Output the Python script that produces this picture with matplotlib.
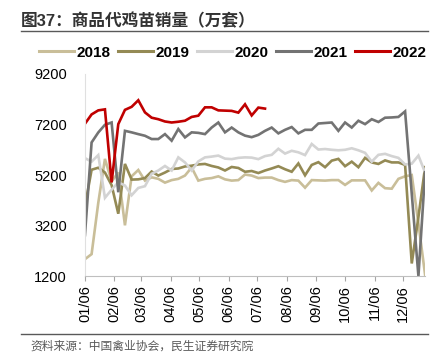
import numpy as np
import pandas as pd
import matplotlib
matplotlib.use("Agg")
import matplotlib.pyplot as plt
import matplotlib.dates as mdates
from matplotlib.lines import Line2D

plt.rcParams['font.family'] = ['Liberation Sans', 'Noto Sans CJK SC', 'DejaVu Sans']

# weekly sales of commercial chicks (10k sets), week index 0..51
weeks = pd.date_range('2022-01-06', periods=52, freq='7D')

y2018 = [1870, 2070, 4100, 5840, 4950, 5300, 3210, 5150, 5400, 4980,
         5110, 5050, 4900, 5000, 5050, 5180, 5500, 4980, 5050, 5080,
         5150, 5030, 4980, 5000, 5220, 5180, 5080, 5100, 5100, 5000,
         4930, 5000, 4980, 4700, 5000, 4990, 4980, 5000, 5000, 4810,
         4990, 4990, 4990, 4590, 4890, 4680, 4660, 5050, 5150, 5200,
         3290, 1250]
y2019 = [3960, 5410, 5490, 5300, 4800, 3670, 5640, 5020, 5030, 5080,
         5340, 5180, 5300, 5440, 5460, 5540, 5570, 5620, 5640, 5560,
         5500, 5380, 5520, 5480, 5330, 5360, 5280, 5380, 5460, 5550,
         5430, 5330, 5660, 5190, 5600, 5710, 5510, 5770, 5840, 5550,
         5730, 5510, 5880, 5700, 5640, 5780, 5700, 5700, 5600, 1700,
         3540, 5510]
y2020 = [5870, 5730, 5990, 4300, 4620, 4915, 4785, 4400, 4690, 4760,
         5250, 5380, 5560, 5380, 5900, 5700, 5380, 5740, 5900, 5930,
         5970, 5850, 5830, 5880, 5900, 5890, 5830, 5950, 6000, 6240,
         6050, 6160, 6100, 5990, 6430, 6210, 6230, 6200, 6180, 6200,
         6260, 6180, 6080, 5730, 6000, 6040, 5950, 5880, 5620, 5650,
         5970, 5300]
y2021 = [2820, 6490, 6885, 7190, 7280, 4520, 6950, 6890, 6820, 6755,
         6625, 6625, 6820, 6560, 7020, 6690, 6890, 6870, 6820, 7080,
         7280, 6890, 7080, 6890, 6760, 6700, 6790, 6950, 7080, 6850,
         6990, 7100, 6850, 6990, 6990, 7240, 7260, 7280, 6950, 7280,
         7080, 7350, 7215, 7410, 7300, 7470, 7480, 7500, 7720, 4460,
         1200, 5310]
y2022 = [7230, 7600, 7760, 7800, 4910, 7215, 7780, 7900, 8160, 7680,
         7470, 7410, 7320, 7280, 7310, 7350, 7500, 7550, 7880, 7880,
         7760, 7750, 7740, 7670, 8000, 7560, 7870, 7830]

series = [('2018', y2018, '#C9BE99'),
          ('2019', y2019, '#948A55'),
          ('2020', y2020, '#D3D3D3'),
          ('2021', y2021, '#737373'),
          ('2022', y2022, '#C00000')]

yticks = [1200, 3200, 5200, 7200, 9200]
xticks = pd.date_range('2022-01-01', periods=12, freq='MS') + pd.Timedelta(days=5)

fig = plt.figure(figsize=(4.47, 3.54), dpi=100)
ax = fig.add_axes([0.190, 0.220, 0.761, 0.571])

for name, vals, col in series:
    ax.plot(weeks[:len(vals)], vals, color=col, lw=1.9, label=name,
            solid_joinstyle='miter')

ax.set_ylim(1200, 9200)
ax.set_xlim(weeks[0], weeks[-1])
ax.set_yticks(yticks)
ax.set_xticks(xticks)
ax.xaxis.set_major_formatter(mdates.DateFormatter('%m/%d'))
ax.tick_params(axis='y', length=0, pad=13, labelsize=10.5, colors='#000000')
ax.tick_params(axis='x', length=3.3, width=0.8, color='#A6A6A6', pad=3,
               labelsize=10.5, rotation=90)
for s in ['top', 'right']:
    ax.spines[s].set_visible(False)
ax.spines['left'].set_color('#E0E0E0')
ax.spines['bottom'].set_color('#BFBFBF')

# title and rules
fig.text(0.047, 0.941, '图37：商品代鸡苗销量（万套）', fontsize=12, fontweight='bold',
         color='#333333', va='center', ha='left')
fig.add_artist(Line2D([0.047, 0.957], [0.913, 0.913], color='#595959', lw=1.0))
fig.add_artist(Line2D([0.047, 0.957], [0.056, 0.056], color='#595959', lw=1.0))
fig.text(0.067, 0.020, '资料来源：中国禽业协会，民生证券研究院', fontsize=8.5,
         color='#595959', va='center', ha='left')

handles = [Line2D([], [], color=c, lw=2.2) for _, _, c in series]
fig.legend(handles, [n for n, _, _ in series], loc='center', ncol=5,
           bbox_to_anchor=(0.52, 0.851), frameon=False,
           prop={'size': 11, 'weight': 'bold'}, handlelength=2.3,
           handletextpad=0.15, columnspacing=0.5)

fig.savefig('out.png', dpi=100)
